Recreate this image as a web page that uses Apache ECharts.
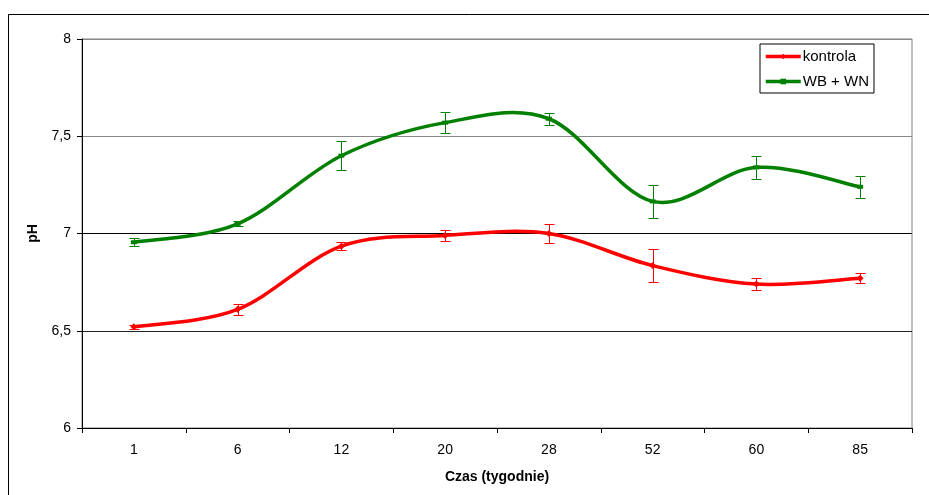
<!DOCTYPE html>
<html><head><meta charset="utf-8">
<script src="https://cdn.jsdelivr.net/npm/echarts@6/dist/echarts.min.js"></script>
<style>html,body{margin:0;padding:0;background:#fff}#c{width:929px;height:495px}</style>
</head><body><div id="c"></div>
<script>
const categories = ['1','6','12','20','28','52','60','85'];
const kontrola = [6.52, 6.61, 6.935, 6.99, 7.0, 6.835, 6.74, 6.77];
const kontrolaErr = [0.01, 0.03, 0.02, 0.03, 0.05, 0.085, 0.03, 0.025];
const wbwn = [6.955, 7.05, 7.40, 7.57, 7.59, 7.165, 7.34, 7.24];
const wbwnErr = [0.02, 0.012, 0.075, 0.055, 0.03, 0.085, 0.06, 0.055];
const yTicks = [6, 6.5, 7, 7.5, 8];
const seriesNames = ['kontrola', 'WB + WN'];
const RED = '#ff0000', GREEN = '#008000';

const FONT = '"Liberation Sans", Arial, sans-serif';

// Excel-like smoothed line: Catmull-Rom through points converted by the axes
function smoothLineSeries(vals, color){
  return {
    type:'custom', silent:true, z:2,
    data: vals.map((v,i)=>[i,v]),
    renderItem: function(params, api){
      if (params.dataIndex !== 0) return null;
      const p = vals.map((v,i)=>api.coord([i, v]));
      let d = 'M' + p[0][0] + ' ' + p[0][1];
      for (let i = 0; i < p.length - 1; i++) {
        const p0 = p[i-1] || p[i], p1 = p[i], p2 = p[i+1], p3 = p[i+2] || p[i+1];
        const c1 = [p1[0] + (p2[0]-p0[0])/6, p1[1] + (p2[1]-p0[1])/6];
        const c2 = [p2[0] - (p3[0]-p1[0])/6, p2[1] - (p3[1]-p1[1])/6];
        d += ' C' + c1[0] + ' ' + c1[1] + ' ' + c2[0] + ' ' + c2[1] + ' ' + p2[0] + ' ' + p2[1];
      }
      return {type:'path', shape:{pathData:d}, style:{stroke:color, fill:'none', lineWidth:3.5, lineJoin:'round'}};
    }
  };
}
function errSeries(vals, errs, color){
  return {
    type:'custom', silent:true, z:3,
    data: vals.map((v,i)=>[i, v-errs[i], v+errs[i]]),
    renderItem: function(params, api){
      const lo = api.coord([api.value(0), api.value(1)]);
      const hi = api.coord([api.value(0), api.value(2)]);
      const x = Math.round(lo[0]) + 0.5;
      const w = 5;
      const st = {stroke: color, lineWidth: 1};
      const yl = Math.round(lo[1]) + 0.5, yh = Math.round(hi[1]) + 0.5;
      return {type:'group', children:[
        {type:'line', shape:{x1:x, y1:yl, x2:x, y2:yh}, style:st},
        {type:'line', shape:{x1:x-w, y1:yl, x2:x+w, y2:yl}, style:st},
        {type:'line', shape:{x1:x-w, y1:yh, x2:x+w, y2:yh}, style:st}
      ]};
    }
  };
}
const chart = echarts.init(document.getElementById('c'), null, {renderer:'canvas'});
chart.setOption({
  animation:false,
  textStyle:{fontFamily:FONT},
  graphic:[{type:'rect', shape:{x:8.5, y:14.5, width:1000, height:600}, style:{fill:'none', stroke:'#000', lineWidth:1}, z:-1}],
  grid:{left:82, right:17, top:39, bottom:67, show:true, borderColor:'#808080', borderWidth:1},
  legend:{
    orient:'vertical', left:760, top:44,
    data: seriesNames,
    borderColor:'#000', borderWidth:1, padding:[5,5,4,4],
    itemWidth:35, itemHeight:7, itemGap:10,
    lineStyle:{width:3.5, opacity:1},
    textStyle:{fontFamily:FONT, fontSize:15, color:'#000', padding:[0,0,0,-3]}
  },
  xAxis:{
    type:'category', data:categories, boundaryGap:true,
    name:'Czas (tygodnie)', nameLocation:'middle', nameGap:42,
    nameTextStyle:{fontFamily:FONT, fontSize:14, fontWeight:'bold', color:'#000'},
    axisLine:{lineStyle:{color:'#000', width:1}},
    axisTick:{show:true, length:5, lineStyle:{color:'#000'}},
    axisLabel:{fontFamily:FONT, fontSize:14, color:'#000', margin:15}
  },
  yAxis:{
    type:'value', min:yTicks[0], max:yTicks[yTicks.length-1], interval:0.5,
    name:'pH', nameLocation:'middle', nameGap:42, nameRotate:90,
    nameTextStyle:{fontFamily:FONT, fontSize:14, fontWeight:'bold', color:'#000'},
    axisLine:{show:true, lineStyle:{color:'#000', width:1}},
    axisTick:{show:true, length:5, inside:false, lineStyle:{color:'#000'}},
    axisLabel:{fontFamily:FONT, fontSize:14, color:'#000', margin:11,
      formatter: v => String(v).replace('.', ',')},
    splitLine:{show:true, lineStyle:{color:['#000','#222','#000','#888','#888'], width:1}}
  },
  series:[
    {name:seriesNames[0], type:'line', data:kontrola, z:4,
     symbol:'diamond', symbolSize:7, showSymbol:true,
     lineStyle:{color:RED, width:3.5, opacity:0}, itemStyle:{color:RED}},
    {name:seriesNames[1], type:'line', data:wbwn, z:4,
     symbol:'rect', symbolSize:[6,4], showSymbol:true,
     lineStyle:{color:GREEN, width:3.5, opacity:0}, itemStyle:{color:GREEN}},
    smoothLineSeries(kontrola, RED),
    smoothLineSeries(wbwn, GREEN),
    errSeries(kontrola, kontrolaErr, RED),
    errSeries(wbwn, wbwnErr, GREEN)
  ]
});
</script></body></html>
